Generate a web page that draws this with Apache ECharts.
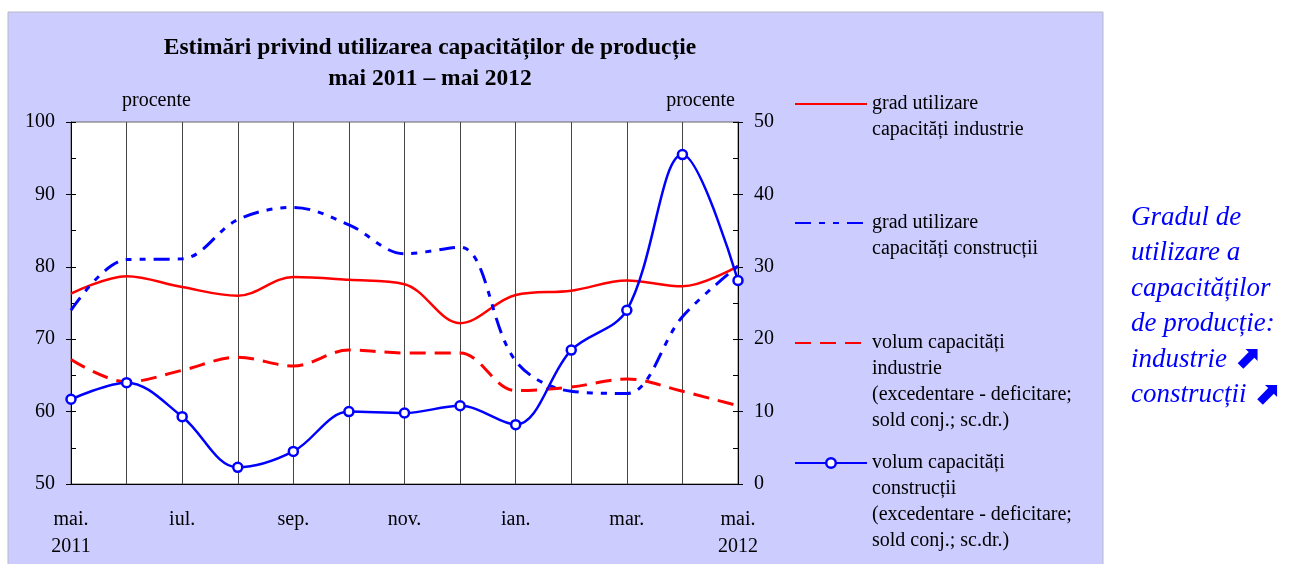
<!DOCTYPE html>
<html>
<head>
<meta charset="utf-8">
<script src="https://cdn.jsdelivr.net/npm/echarts@6/dist/echarts.min.js"></script>
<style>
html,body{margin:0;padding:0;background:#fff;}
#chart{width:1290px;height:564px;}
</style>
</head>
<body>
<div id="chart"></div>
<script>
// luni (mai 2011 - mai 2012)
var luni = ['mai.\n2011','iun.','iul.','aug.','sep.','oct.','nov.','dec.','ian.','feb.','mar.','apr.','mai.\n2012'];
// procente, axa stanga
var gradIndustrie = [76.3,78.7,77.2,76.0,78.6,78.2,77.6,72.2,76.1,76.7,78.1,77.3,80.1];
var gradConstructii = [74.0,81.0,81.1,86.5,88.2,85.8,81.8,82.7,67.0,62.8,62.5,73.1,80.1];
// sold conjunctural, axa dreapta
var volumIndustrie = [17.2,14.1,15.7,17.5,16.3,18.5,18.1,18.1,12.9,13.4,14.5,12.8,10.8];
var volumConstructii = [11.7,14.0,9.3,2.3,4.5,10.0,9.8,10.8,8.2,18.5,24.0,45.5,28.1];

var numeSerii = [
    'grad utilizare\ncapacități industrie',
    'grad utilizare\ncapacități construcții',
    'volum capacități\nindustrie\n(excedentare - deficitare;\nsold conj.; sc.dr.)',
    'volum capacități\nconstrucții\n(excedentare - deficitare;\nsold conj.; sc.dr.)'
];

var serif = 'Liberation Serif';
var myChart = echarts.init(document.getElementById('chart'));

// o legenda pe fiecare serie; textul incepe in dreptul liniei
function legenda(nume, top, linii, simbol) {
    var l = {
        data: [nume],
        left: 794,
        top: top,
        padding: 0,
        orient: 'vertical',
        itemWidth: 72,
        itemHeight: 12,
        selectedMode: false,
        formatter: function (n) {
            var gol = '';
            for (var i = 1; i < linii; i++) gol += '\n';
            return gol + n;
        },
        textStyle: {fontFamily: serif, fontSize: 20, lineHeight: 26, color: '#000'},
        itemStyle: simbol ? simbol : {opacity: 0}
    };
    return l;
}

function axaY(pozitie, min, max, nume) {
    return {
        type: 'value',
        position: pozitie,
        min: min,
        max: max,
        interval: 10,
        axisLine: {show: true, lineStyle: {color: '#000', width: 1}},
        axisTick: {show: true, inside: false, length: 5, lineStyle: {color: '#000'}},
        axisLabel: {margin: 16, fontFamily: serif, fontSize: 20, color: '#000'},
        splitLine: {show: false},
        name: nume,
        nameLocation: 'end',
        nameGap: 11,
        nameTextStyle: pozitie == 'left'
            ? {fontFamily: serif, fontSize: 20, color: '#000', align: 'left', padding: [0, 0, 0, 51]}
            : {fontFamily: serif, fontSize: 20, color: '#000', align: 'right', padding: [0, 3, 0, 0]}
    };
}

function axaTicks(pozitie, min, max) {
    return {
        type: 'value',
        position: pozitie,
        min: min,
        max: max,
        interval: 10,
        axisLine: {show: false},
        axisTick: {show: true, inside: true, length: 5, lineStyle: {color: '#000'}},
        minorTick: {show: true, splitNumber: 2, length: 5, lineStyle: {color: '#000'}},
        axisLabel: {show: false},
        splitLine: {show: false}
    };
}

var option = {
    backgroundColor: '#fff',
    animation: false,
    title: {
        text: 'Estimări privind utilizarea capacităților de producție\nmai 2011 – mai 2012',
        left: 430,
        top: 32,
        padding: 0,
        textAlign: 'center',
        textStyle: {fontFamily: serif, fontSize: 23.5, fontWeight: 'bold', lineHeight: 31, color: '#000'}
    },
    legend: [
        legenda(numeSerii[0], 65, 2),
        legenda(numeSerii[1], 184, 2),
        legenda(numeSerii[2], 252, 4),
        legenda(numeSerii[3], 372, 4, {color: '#fff', borderColor: '#0000ff', borderWidth: 2.5})
    ],
    graphic: [
        {
            type: 'rect', z: -10, silent: true,
            shape: {x: 8, y: 12, width: 1095, height: 560},
            style: {fill: '#ccccff', stroke: '#b8b8c8', lineWidth: 1}
        },
        {
            type: 'text', z: 10, silent: true,
            style: {
                x: 1131, y: 200,
                text: 'Gradul de\nutilizare a\ncapacităților\nde producție:\nindustrie {a|⬈}\nconstrucții {a|⬈}',
                fill: '#0000ff',
                fontFamily: serif,
                fontStyle: 'italic',
                fontSize: 27,
                lineHeight: 35.5,
                rich: {
                    a: {fontFamily: 'DejaVu Sans', fontStyle: 'normal', fontWeight: 'bold', fontSize: 32, fill: '#0000ff', lineHeight: 35.5}
                }
            }
        }
    ],
    grid: {
        left: 71, right: 552, top: 122, bottom: 80,
        show: true, backgroundColor: '#fff', borderColor: '#666', borderWidth: 1
    },
    xAxis: {
        type: 'category',
        data: luni,
        boundaryGap: false,
        axisLine: {lineStyle: {color: '#000', width: 1}},
        axisTick: {show: false},
        axisLabel: {interval: 1, margin: 22, fontFamily: serif, fontSize: 20, lineHeight: 27, color: '#000'},
        splitLine: {show: true, interval: 0, lineStyle: {color: '#444', width: 1}}
    },
    yAxis: [
        axaY('left', 50, 100, 'procente'),
        axaY('right', 0, 50, 'procente'),
        axaTicks('left', 50, 100),
        axaTicks('right', 0, 50)
    ],
    series: [
        {
            name: numeSerii[0], type: 'line', yAxisIndex: 0, data: gradIndustrie,
            smooth: 0.35, symbol: 'none',
            lineStyle: {color: '#ff0000', width: 2.5},
            itemStyle: {color: '#ff0000'}
        },
        {
            name: numeSerii[1], type: 'line', yAxisIndex: 0, data: gradConstructii,
            smooth: 0.35, symbol: 'none',
            lineStyle: {color: '#0000ff', width: 3, type: [16, 8, 6, 8, 6, 8]},
            itemStyle: {color: '#0000ff'}
        },
        {
            name: numeSerii[2], type: 'line', yAxisIndex: 1, data: volumIndustrie,
            smooth: 0.35, symbol: 'none',
            lineStyle: {color: '#ff0000', width: 3, type: [16, 9]},
            itemStyle: {color: '#ff0000'}
        },
        {
            name: numeSerii[3], type: 'line', yAxisIndex: 1, data: volumConstructii,
            smooth: 0.35, symbol: 'circle', symbolSize: 9,
            lineStyle: {color: '#0000ff', width: 2.5},
            itemStyle: {color: '#fff', borderColor: '#0000ff', borderWidth: 2.5}
        }
    ]
};
myChart.setOption(option);
</script>
</body>
</html>
